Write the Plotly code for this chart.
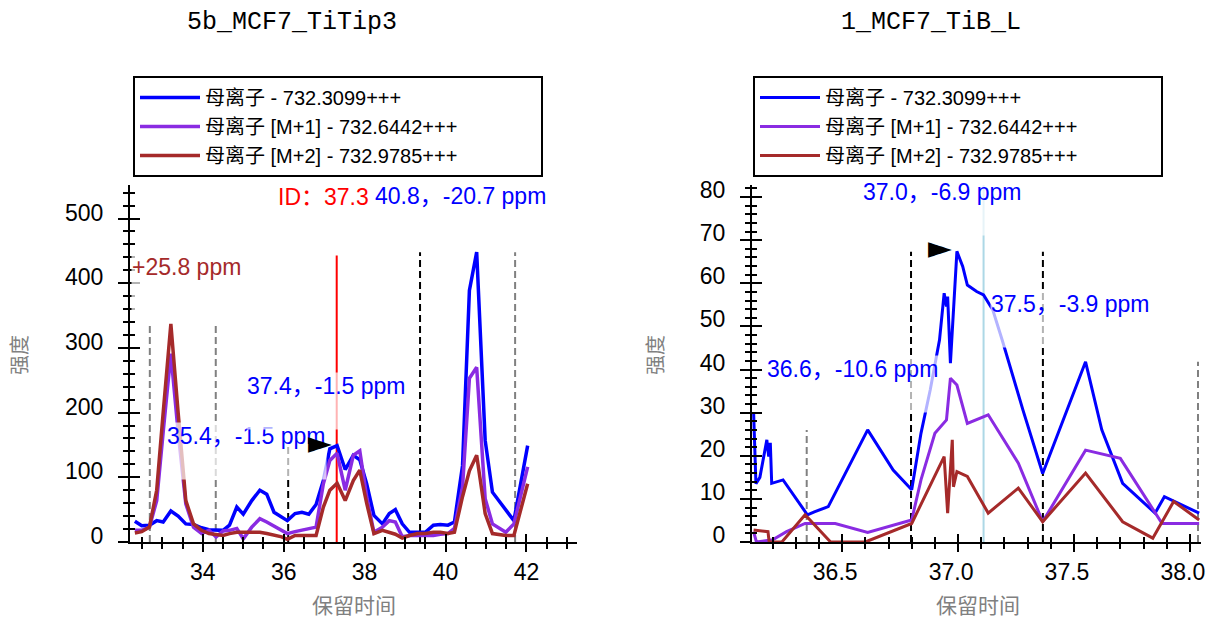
import plotly.graph_objects as go

# ---------------- data ----------------
left_title = "5b_MCF7_TiTip3"
right_title = "1_MCF7_TiB_L"
series_names = ["母离子 - 732.3099+++",
                "母离子 [M+1] - 732.6442+++",
                "母离子 [M+2] - 732.9785+++"]
x_title = "保留时间"
y_title = "强度"

# left panel (shared retention times)
rt_left = [32.32, 32.49, 32.68, 32.86, 33.02, 33.21, 33.39, 33.58, 33.77, 33.97,
           34.15, 34.33, 34.50, 34.66, 34.84, 35.00, 35.21, 35.41, 35.58, 35.76,
           35.95, 36.09, 36.28, 36.45, 36.62, 36.80, 36.98, 37.14, 37.32, 37.52,
           37.72, 37.88, 38.05, 38.23, 38.44, 38.61, 38.76, 38.93, 39.11, 39.31,
           39.50, 39.70, 39.87, 40.06, 40.22, 40.42, 40.59, 40.77, 40.98, 41.16,
           41.49, 41.69, 42.03]
left_mono = [32, 25, 26, 33, 31, 48, 40, 28, 27, 22,
             19, 19, 18, 26, 54, 43, 64, 80, 74, 46,
             38, 33, 44, 46, 43, 58, 95, 144, 149, 112,
             134, 127, 90, 41, 28, 44, 50, 28, 15, 15,
             15, 26, 27, 26, 31, 118, 389, 448, 157, 77,
             49, 33, 149]
left_m1 = [18, 18, 23, 64, 170, 291, 170, 59, 23, 13,
           18, 8, 17, 18, 21, 5, 23, 36, 31, 25,
           18, 13, 16, 18, 20, 23, 90, 126, 137, 80,
           134, 141, 70, 15, 23, 33, 31, 8, 10, 10,
           10, 10, 12, 13, 21, 85, 253, 270, 67, 28,
           15, 28, 116]
left_m2 = [14, 16, 23, 80, 200, 337, 200, 64, 28, 18,
           13, 11, 10, 13, 15, 15, 15, 15, 13, 10,
           8, 4, 10, 10, 10, 10, 54, 80, 91, 64,
           95, 111, 60, 13, 18, 15, 12, 6, 10, 13,
           13, 15, 15, 13, 15, 70, 110, 134, 44, 13,
           10, 10, 90]

# right panel
rt_right_mono = [36.118, 36.128, 36.145, 36.175, 36.183, 36.190, 36.196, 36.245,
                 36.35, 36.38, 36.44, 36.61, 36.72, 36.80, 36.84, 36.88, 36.92,
                 36.94, 36.95, 36.955, 36.967, 36.995, 37.02, 37.04, 37.08, 37.11,
                 37.15, 37.19, 37.28, 37.365, 37.55, 37.62, 37.71, 37.85, 37.89, 38.04]
right_mono = [30, 13.5, 15, 23.7, 19.8, 23, 13.6, 14.4,
              6.3, 7, 8.2, 26, 16.7, 12.1, 25.2, 35.3, 46.9,
              57.7, 54.6, 56.9, 41.5, 67.4, 63.9, 59.6, 58.1, 57.3,
              53.8, 46.9, 30.6, 15.9, 41.8, 26, 13.6, 6.7, 10.5, 6.7]
rt_right_m1 = [36.118, 36.13, 36.20, 36.26, 36.34, 36.47, 36.61, 36.80, 36.84,
               36.90, 36.95, 36.967, 36.995, 37.04, 37.13, 37.26, 37.365, 37.55,
               37.70, 37.88, 38.04]
right_m1 = [2.4, 0, 0.5, 2.4, 4.3, 4.3, 2.2, 5.1, 14.4,
            25.2, 28.3, 38, 36.4, 27.5, 29.5, 18.3, 4.7, 21.3,
            19.4, 4.3, 4.3]
rt_right_m2 = [36.118, 36.18, 36.185, 36.24, 36.34, 36.45, 36.60, 36.80, 36.94,
               36.955, 36.975, 36.98, 36.995, 37.04, 37.13, 37.26, 37.365, 37.55,
               37.71, 37.84, 37.93, 38.04]
right_m2 = [2.8, 2.4, 0, 0, 6.3, 0, 0, 4.3, 19.8,
            6.7, 23.7, 12.8, 16.3, 15.2, 6.7, 12.5, 4.7, 16,
            4.7, 0.9, 9.4, 5.1]

# vertical marker lines: retention time and height
left_marks_rt = [32.69, 34.32, 36.11, 37.31, 39.37, 41.72]
left_marks_top = [336, 336, 152, 443, 448, 448]
left_marks_kind = ["other", "other", "bound", "id", "bound", "other"]
right_marks_rt = [36.347, 36.797, 37.11, 37.366, 38.035]
right_marks_top = [26, 67.3, 82.8, 67.3, 41.8]
right_marks_kind = ["other", "bound", "ms2", "bound", "other"]

# peak windows (integration boundaries)
left_window = (36.11, 39.37)
right_window = (36.797, 37.366)

# text labels (x = left edge, y = text centre)
left_labels = ["ID：37.3", "40.8，-20.7 ppm", "+25.8 ppm", "35.4，-1.5 ppm", "37.4，-1.5 ppm"]
left_label_kind = ["id", "mono", "m2", "mono", "mono"]
left_label_x = [35.83, 38.23, 32.22, 33.09, 35.07]
left_label_y = [531, 533, 423, 163, 239]
right_labels = ["36.6，-10.6 ppm", "37.0，-6.9 ppm", "37.5，-3.9 ppm"]
right_label_kind = ["mono", "mono", "mono"]
right_label_x = [36.173, 36.586, 37.139]
right_label_y = [39.9, 80.9, 55.0]

# ---------------- styles / layout ----------------
colors = ["#0000ff", "#8a2be2", "#a52a2a"]
label_colors = {"id": "#ff0000", "mono": "#0000ff", "m2": "#a52a2a"}
mark_style = {
    "other": dict(color="#808080", width=2, dash="7px,4px"),
    "bound": dict(color="#000000", width=2, dash="7px,4px"),
    "id": dict(color="#ff0000", width=2, dash="solid"),
    "ms2": dict(color="#add8e6", width=2, dash="solid"),
}
FONT = "Liberation Sans, Arial, Noto Sans CJK SC, sans-serif"
W, H = 1215, 627          # page size
OFF = 8                   # page body margin
FW, FH = W - OFF, H - 2 * OFF  # figure size (no page overflow)


def px_x(p):
    return (p - OFF) / FW


def px_y(p):
    return 1 - (p - OFF) / FH


LEGEND_PAD = "\u00a0" * 14

fig = go.Figure()

left_series = [left_mono, left_m1, left_m2]
for i, (name, ys, c) in enumerate(zip(series_names, left_series, colors)):
    fig.add_trace(go.Scatter(x=rt_left, y=ys, name=name + (LEGEND_PAD if i == 1 else ""),
                             mode="lines", line=dict(color=c, width=3.5),
                             xaxis="x", yaxis="y", legend="legend"))
right_series = [(rt_right_mono, right_mono), (rt_right_m1, right_m1), (rt_right_m2, right_m2)]
for i, (name, (xs, ys), c) in enumerate(zip(series_names, right_series, colors)):
    fig.add_trace(go.Scatter(x=xs, y=ys, name=name + (LEGEND_PAD if i == 1 else ""),
                             mode="lines", line=dict(color=c, width=3),
                             xaxis="x2", yaxis="y2", legend="legend2"))

# helper empty traces so the overlay tick axes are drawn
for xa, ya in [("x3", "y"), ("x4", "y2"), ("x", "y3"), ("x2", "y4")]:
    fig.add_trace(go.Scatter(x=[], y=[], xaxis=xa, yaxis=ya, showlegend=False,
                             hoverinfo="skip"))

# vertical marker lines
for rt, top, kind in zip(left_marks_rt, left_marks_top, left_marks_kind):
    fig.add_shape(type="line", xref="x", yref="y", x0=rt, x1=rt, y0=0, y1=top,
                  line=mark_style[kind], layer="below")
for rt, top, kind in zip(right_marks_rt, right_marks_top, right_marks_kind):
    fig.add_shape(type="line", xref="x2", yref="y2", x0=rt, x1=rt, y0=0, y1=top,
                  line=mark_style[kind], layer="below")


# text labels with a translucent backing box
def add_labels(texts, kinds, xs, ys, xref, yref):
    for t, k, x, y in zip(texts, kinds, xs, ys):
        fig.add_annotation(x=x, y=y, xref=xref, yref=yref, text=t + "<br>\u00a0",
                           showarrow=False, xanchor="left", yanchor="top", align="left",
                           yshift=15,
                           font=dict(family=FONT, size=23, color=label_colors[k]),
                           bgcolor="rgba(255,255,255,0.7)", borderpad=0)


add_labels(left_labels, left_label_kind, left_label_x, left_label_y, "x", "y")
add_labels(right_labels, right_label_kind, right_label_x, right_label_y, "x2", "y2")


# apex markers
def apex(rt, inten, lo, hi):
    idx = max((i for i in range(len(rt)) if lo <= rt[i] <= hi), key=lambda i: inten[i])
    return rt[idx], inten[idx]


for (ax, ay), xr, yr in [(apex(rt_left, left_mono, *left_window), "x", "y"),
                         (apex(rt_right_mono, right_mono, *right_window), "x2", "y2")]:
    fig.add_annotation(x=ax, y=ay, xref=xr, yref=yr, text="►", showarrow=False,
                       xanchor="right", yanchor="middle", xshift=-3, yshift=4,
                       font=dict(family="DejaVu Sans", size=31, color="black"))

# titles and axis titles
for t, cx in [(left_title, 292), (right_title, 931)]:
    fig.add_annotation(x=px_x(cx), y=px_y(23), xref="paper", yref="paper", text=t,
                       showarrow=False, xanchor="center", yanchor="middle",
                       font=dict(family="Liberation Mono, monospace", size=25, color="black"))
for cx in [(130 + 577) / 2, (753 + 1203) / 2]:
    fig.add_annotation(x=px_x(cx), y=px_y(605), xref="paper", yref="paper", text=x_title,
                       showarrow=False, xanchor="center", yanchor="middle",
                       font=dict(family=FONT, size=21, color="#808080"))
for cx in [20, 656]:
    fig.add_annotation(x=px_x(cx), y=px_y(355), xref="paper", yref="paper", text=y_title,
                       showarrow=False, xanchor="center", yanchor="middle", textangle=-90,
                       font=dict(family=FONT, size=20, color="#808080"))

tickfont = dict(family=FONT, size=23, color="black")
ydom = [px_y(542), px_y(185)]
xdomL = [px_x(130), px_x(577)]
xdomR = [px_x(752), px_x(1201)]
xrL = [32.20, 43.25]
yrL = [0, 551.8]
xrR = [36.111, 38.048]
yrR = [0, 82.8]


def xaxis_main(dom, rng, dtick, minor, fmt, anchor, shift):
    return dict(domain=dom, range=rng, anchor=anchor, showline=True, linecolor="black",
                linewidth=2, ticks="outside", ticklen=8, tickwidth=2, tickcolor="black",
                dtick=dtick, tick0=0, tickformat=fmt, tickfont=tickfont, showgrid=False,
                zeroline=False, ticklabelstandoff=0, ticklabelshift=shift,
                automargin=False,
                minor=dict(ticks="outside", ticklen=5, tickwidth=2, tickcolor="black",
                           dtick=minor, tick0=0, showgrid=False))


def xaxis_over(dom, rng, dtick, minor, over, anchor):
    return dict(domain=dom, range=rng, overlaying=over, anchor=anchor, showline=False,
                ticks="inside", ticklen=8, tickwidth=2, tickcolor="black", dtick=dtick,
                tick0=0, showticklabels=False, showgrid=False, zeroline=False,
                automargin=False,
                minor=dict(ticks="inside", ticklen=5, tickwidth=2, tickcolor="black",
                           dtick=minor, tick0=0, showgrid=False))


def yaxis_main(rng, dtick, minor, anchor, shift):
    return dict(domain=ydom, range=rng, anchor=anchor, showline=True, linecolor="black",
                linewidth=2, ticks="outside", ticklen=10, tickwidth=2, tickcolor="black",
                dtick=dtick, tick0=0, tickfont=tickfont, showgrid=False, zeroline=False,
                ticklabelstandoff=10, ticklabelshift=shift, automargin=False,
                minor=dict(ticks="outside", ticklen=5, tickwidth=2, tickcolor="black",
                           dtick=minor, tick0=0, showgrid=False))


def yaxis_over(rng, dtick, minor, over, anchor):
    return dict(domain=ydom, range=rng, overlaying=over, anchor=anchor, showline=False,
                ticks="inside", ticklen=10, tickwidth=2, tickcolor="black", dtick=dtick,
                tick0=0, showticklabels=False, showgrid=False, zeroline=False,
                automargin=False,
                minor=dict(ticks="inside", ticklen=5, tickwidth=2, tickcolor="black",
                           dtick=minor, tick0=0, showgrid=False))


legend_common = dict(bordercolor="black", borderwidth=2, bgcolor="white",
                     font=dict(family=FONT, size=20, color="black"), itemwidth=60,
                     xanchor="left", yanchor="top", y=px_y(76), tracegroupgap=0,
                     itemclick=False)

fig.update_layout(
    template="none",
    width=FW, height=FH, margin=dict(l=0, r=0, t=0, b=0, autoexpand=False),
    paper_bgcolor="white", plot_bgcolor="white", showlegend=True,
    xaxis=xaxis_main(xdomL, xrL, 2, 0.5, "", "y", 0),
    xaxis2=xaxis_main(xdomR, xrR, 0.5, 0.1, ".1f", "y2", -7),
    xaxis3=xaxis_over(xdomL, xrL, 2, 0.5, "x", "y"),
    xaxis4=xaxis_over(xdomR, xrR, 0.5, 0.1, "x2", "y2"),
    yaxis=yaxis_main(yrL, 100, 20, "x", -6),
    yaxis2=yaxis_main(yrR, 10, 2, "x2", -7),
    yaxis3=yaxis_over(yrL, 100, 20, "y", "x"),
    yaxis4=yaxis_over(yrR, 10, 2, "y2", "x2"),
    legend=dict(x=px_x(133), **legend_common),
    legend2=dict(x=px_x(753), **legend_common),
)

fig.write_html("out.html")
